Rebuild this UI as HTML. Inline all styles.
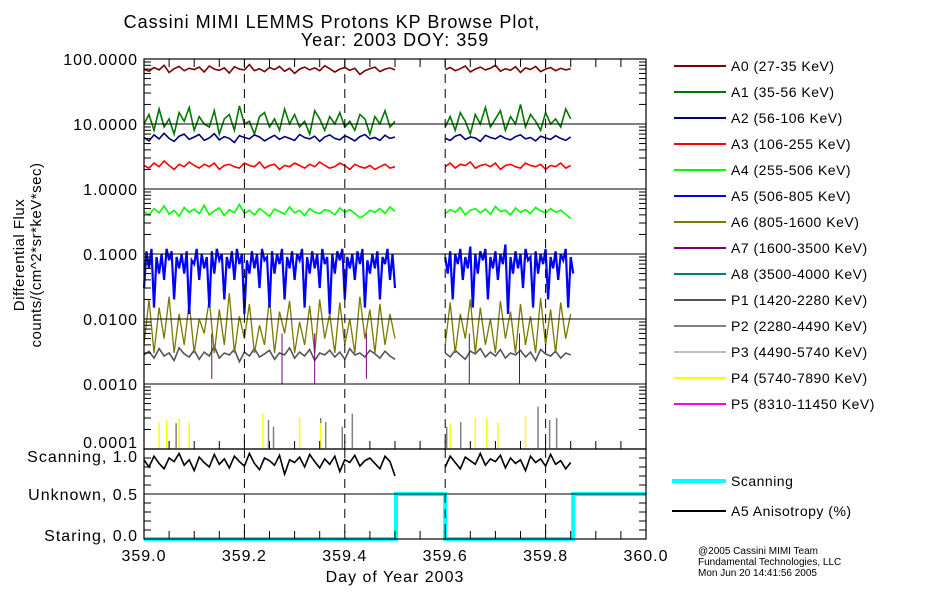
<!DOCTYPE html>
<html><head><meta charset="utf-8"><style>
body{margin:0;background:#fff;}
svg{display:block;font-family:"Liberation Sans",sans-serif;}
</style></head><body>
<svg id="chart" width="950" height="600" viewBox="0 0 950 600" xmlns="http://www.w3.org/2000/svg">
<rect width="950" height="600" fill="#fff"/>
<text x="332" y="28" text-anchor="middle" font-size="18" letter-spacing="1">Cassini MIMI LEMMS Protons KP Browse Plot,</text>
<text x="395" y="46" text-anchor="middle" font-size="18" letter-spacing="1">Year: 2003 DOY: 359</text>
<g id="plot"></g>
<g id="axes"></g>
<text transform="translate(24,255) rotate(-90)" text-anchor="middle" font-size="15" letter-spacing="0.5">Differential Flux</text>
<text transform="translate(41,255) rotate(-90)" text-anchor="middle" font-size="15" letter-spacing="0.5">counts/(cm^2*sr*keV*sec)</text>
<text x="395" y="582" text-anchor="middle" font-size="16" letter-spacing="1">Day of Year 2003</text>
<g font-size="10">
<text x="698" y="554">@2005 Cassini MIMI Team</text>
<text x="698" y="565">Fundamental Technologies, LLC</text>
<text x="698" y="576">Mon Jun 20 14:41:56 2005</text>
</g>
<g id="legend"></g>
</svg>
<script>
const seg1Start = 359.0, seg2Start = 359.6, step = 0.01, fineStep = 0.005;
const decadeTicks = [100, 10, 1, 0.1, 0.01, 0.001, 0.0001];
const decadeLabels = ["100.0000","10.0000","1.0000","0.1000","0.0100","0.0010","0.0001"];
const xTicks = [359.0, 359.2, 359.4, 359.6, 359.8, 360.0];
const xTickLabels = ["359.0","359.2","359.4","359.6","359.8","360.0"];
const lowerTicks = [1.0, 0.5, 0.0];
const lowerLabels = ["Scanning, 1.0","Unknown, 0.5","Staring, 0.0"];

const a0s1 = [70,65,74,68,80,62,71,77,66,72,69,75,63,78,70,67,73,61,76,70,68,82,66,71,64,74,69,77,65,72,60,70,75,68,73,66,79,71,63,70,74,67,72,58,66,71,75,64,70,73,68];
const a0s2 = [69,74,66,71,78,63,70,75,68,72,80,65,71,67,76,62,73,69,77,64,70,74,66,72,68,71];
const a1s1 = [10,14,8,17,9,12,7,15,11,18,8,13,10,9,16,7,12,14,8,19,10,11,7,13,15,9,12,8,17,10,14,9,11,7,16,12,8,13,10,15,9,11,8,14,12,7,13,10,16,9,11];
const a1s2 = [9,13,8,15,11,7,14,10,18,9,12,16,8,13,10,20,9,14,11,8,15,10,12,9,17,12];
const a2s1 = [6.2,5.5,6.8,5.9,7.2,6.0,5.4,6.5,7.0,5.8,6.3,6.9,5.6,6.1,7.1,5.7,6.4,6.0,5.2,6.6,6.2,5.9,6.8,6.3,5.5,6.1,6.7,5.8,6.4,6.0,5.6,6.9,6.2,5.9,6.5,5.4,6.3,6.8,6.0,5.7,6.6,6.1,5.5,6.4,6.9,5.9,6.2,5.6,6.7,6.0,6.3];
const a2s2 = [6.0,5.6,6.5,6.9,5.8,6.3,6.1,5.4,6.7,6.2,5.9,6.6,6.0,5.7,6.4,6.8,5.9,6.2,5.5,6.5,6.1,5.8,6.6,6.0,5.6,6.3];
const a3s1 = [2.3,2.1,2.5,2.2,2.7,2.3,2.0,2.4,2.2,2.6,2.3,2.1,2.4,2.2,2.5,2.0,2.3,2.4,2.2,2.1,2.5,2.3,2.2,2.6,2.1,2.3,2.4,2.0,2.3,2.2,2.5,2.3,2.1,2.4,2.2,2.6,2.3,2.1,2.2,2.5,2.3,2.0,2.4,2.2,2.1,2.3,2.0,2.2,2.4,2.1,2.2];
const a3s2 = [2.2,2.5,2.1,2.4,2.3,2.6,2.1,2.3,2.4,2.2,2.5,2.0,2.3,2.4,2.2,2.1,2.5,2.3,2.2,2.4,2.0,2.3,2.2,2.5,2.1,2.3];
const a4s1 = [0.45,0.40,0.50,0.43,0.55,0.41,0.47,0.38,0.52,0.44,0.49,0.42,0.56,0.40,0.46,0.51,0.39,0.48,0.43,0.58,0.42,0.47,0.40,0.50,0.44,0.38,0.49,0.45,0.41,0.53,0.43,0.47,0.39,0.50,0.44,0.42,0.48,0.46,0.40,0.51,0.44,0.48,0.42,0.36,0.40,0.47,0.44,0.50,0.42,0.53,0.45];
const a4s2 = [0.42,0.48,0.44,0.52,0.40,0.47,0.50,0.43,0.49,0.41,0.54,0.45,0.47,0.40,0.51,0.44,0.48,0.42,0.52,0.46,0.43,0.50,0.44,0.47,0.41,0.35];
// A5 sampled at fineStep
const a5s1 = [0.03,0.11,0.06,0.12,0.015,0.09,0.05,0.10,0.04,0.12,0.08,0.11,0.02,0.09,0.06,0.10,0.05,0.11,0.012,0.08,0.07,0.12,0.04,0.10,0.06,0.09,0.015,0.11,0.05,0.12,0.08,0.10,0.02,0.09,0.06,0.11,0.04,0.12,0.07,0.10,0.012,0.08,0.05,0.11,0.06,0.10,0.03,0.12,0.08,0.09,0.015,0.11,0.05,0.10,0.07,0.12,0.02,0.09,0.06,0.11,0.04,0.10,0.08,0.12,0.015,0.09,0.05,0.11,0.06,0.10,0.03,0.12,0.07,0.09,0.012,0.10,0.05,0.11,0.08,0.12,0.02,0.09,0.06,0.10,0.04,0.11,0.07,0.12,0.015,0.08,0.05,0.10,0.06,0.11,0.02,0.09,0.07,0.12,0.04,0.10,0.03];
const a5s2 = [0.09,0.05,0.11,0.02,0.10,0.07,0.12,0.04,0.09,0.06,0.13,0.015,0.10,0.05,0.11,0.08,0.12,0.02,0.09,0.06,0.11,0.04,0.10,0.07,0.14,0.012,0.09,0.05,0.11,0.06,0.10,0.03,0.12,0.08,0.09,0.015,0.11,0.05,0.10,0.07,0.12,0.02,0.09,0.06,0.11,0.04,0.10,0.08,0.12,0.015,0.09,0.05];
const a6s1 = [0.004,0.020,0.003,0.015,0.005,0.022,0.003,0.012,0.004,0.018,0.003,0.010,0.006,0.020,0.003,0.014,0.004,0.025,0.003,0.011,0.005,0.017,0.003,0.008,0.004,0.021,0.003,0.013,0.006,0.019,0.003,0.009,0.004,0.016,0.003,0.020,0.005,0.012,0.003,0.018,0.004,0.010,0.003,0.022,0.005,0.014,0.003,0.017,0.004,0.012,0.005];
const a6s2 = [0.004,0.018,0.003,0.012,0.005,0.020,0.003,0.015,0.004,0.010,0.003,0.019,0.005,0.013,0.003,0.017,0.004,0.011,0.003,0.021,0.004,0.014,0.003,0.018,0.005,0.012];
const p1s1 = [0.0028,0.0032,0.0025,0.0035,0.0027,0.0030,0.0023,0.0036,0.0029,0.0026,0.0033,0.0024,0.0031,0.0027,0.0038,0.0025,0.0030,0.0028,0.0034,0.0022,0.0031,0.0027,0.0035,0.0026,0.0029,0.0033,0.0024,0.0030,0.0028,0.0036,0.0025,0.0031,0.0027,0.0034,0.0023,0.0030,0.0028,0.0033,0.0026,0.0031,0.0024,0.0035,0.0028,0.0030,0.0026,0.0033,0.0029,0.0025,0.0032,0.0027,0.0024];
const p1s2 = [0.0030,0.0026,0.0033,0.0028,0.0024,0.0032,0.0029,0.0035,0.0026,0.0031,0.0027,0.0034,0.0025,0.0030,0.0028,0.0033,0.0026,0.0031,0.0023,0.0034,0.0029,0.0027,0.0032,0.0025,0.0030,0.0028];
const anis1 = [0.88,0.80,0.92,0.84,0.78,0.90,0.86,0.95,0.82,0.88,0.76,0.91,0.85,0.80,0.94,0.83,0.89,0.79,0.92,0.86,0.81,0.95,0.84,0.77,0.90,0.87,0.82,0.93,0.72,0.88,0.85,0.91,0.80,0.94,0.86,0.79,0.89,0.83,0.92,0.75,0.88,0.85,0.93,0.81,0.87,0.90,0.84,0.78,0.92,0.86,0.70];
const anis2 = [0.80,0.92,0.85,0.78,0.91,0.87,0.83,0.95,0.82,0.89,0.86,0.93,0.79,0.90,0.84,0.88,0.76,0.92,0.85,0.89,0.81,0.94,0.83,0.87,0.78,0.85];
const scanTimes = [359.0, 359.502, 359.6, 359.855, 360.0];
const scanStates = [0, 0.5, 0, 0.5];
const a7Times = [359.135, 359.34, 359.275, 359.443, 359.648, 359.748];
const a7Values = [0.0012, 0.0010, 0.0010, 0.0012, 0.0010, 0.0010];
const p2Times = [359.064, 359.248, 359.258, 359.352, 359.362, 359.395, 359.415, 359.603, 359.631, 359.785, 359.808, 359.822];
const p2Values = [0.00025, 0.00028, 0.00022, 0.00030, 0.00026, 0.00022, 0.00035, 0.00022, 0.00026, 0.00045, 0.00028, 0.00030];
const p4Times = [359.030, 359.045, 359.070, 359.090, 359.237, 359.310, 359.352, 359.610, 359.660, 359.683, 359.705, 359.760];
const p4Values = [0.00025, 0.00028, 0.00030, 0.00025, 0.00035, 0.00030, 0.00025, 0.00024, 0.00030, 0.00030, 0.00025, 0.00032];

const legendNames = ["A0 (27-35 KeV)","A1 (35-56 KeV)","A2 (56-106 KeV)","A3 (106-255 KeV)","A4 (255-506 KeV)","A5 (506-805 KeV)","A6 (805-1600 KeV)","A7 (1600-3500 KeV)","A8 (3500-4000 KeV)","P1 (1420-2280 KeV)","P2 (2280-4490 KeV)","P3 (4490-5740 KeV)","P4 (5740-7890 KeV)","P5 (8310-11450 KeV)"];
const legendColors = ["#7a0000","#007800","#000078","#ff0000","#00ff00","#0000ff","#7a7a00","#7a007a","#007a7a","#555555","#808080","#bdbdbd","#ffff00","#ff00ff"];

const NS = "http://www.w3.org/2000/svg";
const X0 = 144, X1 = 646, TOP = 59, DEC = 65, BOT = 449, LB = 539;
function xs(t){ return X0 + (t - 359.0) * (X1 - X0); }
function ys(v){ return TOP + (2 - Math.log10(v)) * DEC; }
function yl(v){ return LB - v * (LB - BOT); }
function mk(tag, attrs, parent){ const e = document.createElementNS(NS, tag); for (const k in attrs) e.setAttribute(k, attrs[k]); parent.appendChild(e); return e; }
const plot = document.getElementById("plot");
const axes = document.getElementById("axes");

function drawSeries(arr, start, yfn, color, name, w, st){
  const s = st || step;
  let d = "";
  arr.forEach((v, i) => { d += (i ? "L" : "M") + xs(start + i * s).toFixed(1) + " " + yfn(v).toFixed(1); });
  const p = mk("path", {d: d, fill: "none", stroke: color, "stroke-width": w || 1.3}, plot);
  
  
}
function drawSpikes(times, vals, color, name){
  times.forEach((t, i) => {
    const l = mk("line", {x1: xs(t), x2: xs(t), y1: BOT - 1, y2: ys(vals[i]), stroke: color, "stroke-width": 1.5}, plot);
    
    
  });
}
function drawDrop(times, vals, color, name){
  times.forEach((t, i) => {
    const l = mk("line", {x1: xs(t), x2: xs(t), y1: ys(0.006), y2: ys(vals[i]), stroke: color, "stroke-width": 1}, plot);
    
    
  });
}

decadeTicks.slice(1, 6).forEach(v => {
  const l = mk("line", {x1: X0, x2: X1, y1: ys(v), y2: ys(v), stroke: "#000", "stroke-width": 1}, axes);
  
  
});
const mid = mk("line", {x1: X0, x2: X1, y1: yl(0.5), y2: yl(0.5), stroke: "#000", "stroke-width": 1}, axes);


xTicks.slice(1, 5).forEach(t => {
  const l = mk("line", {x1: xs(t), x2: xs(t), y1: TOP, y2: LB, stroke: "#000", "stroke-width": 1, "stroke-dasharray": "9,6"}, axes);
  
  
});

drawSpikes(p2Times, p2Values, "#808080", "p2-spike");
drawSpikes(p4Times, p4Values, "#ffff00", "p4-spike");
drawSeries(a0s1, seg1Start, ys, "#7a0000", "a0-line-seg1", 1.6);
drawSeries(a0s2, seg2Start, ys, "#7a0000", "a0-line-seg2", 1.6);
drawSeries(a1s1, seg1Start, ys, "#007800", "a1-line-seg1", 1.6);
drawSeries(a1s2, seg2Start, ys, "#007800", "a1-line-seg2", 1.6);
drawSeries(a2s1, seg1Start, ys, "#000078", "a2-line-seg1", 1.6);
drawSeries(a2s2, seg2Start, ys, "#000078", "a2-line-seg2", 1.6);
drawSeries(a3s1, seg1Start, ys, "#ff0000", "a3-line-seg1", 1.6);
drawSeries(a3s2, seg2Start, ys, "#ff0000", "a3-line-seg2", 1.6);
drawSeries(a4s1, seg1Start, ys, "#00ff00", "a4-line-seg1", 1.6);
drawSeries(a4s2, seg2Start, ys, "#00ff00", "a4-line-seg2", 1.6);
drawSeries(p1s1, seg1Start, ys, "#555555", "p1-line-seg1", 1.6);
drawSeries(p1s2, seg2Start, ys, "#555555", "p1-line-seg2", 1.6);
drawSeries(a6s1, seg1Start, ys, "#7a7a00", "a6-line-seg1");
drawSeries(a6s2, seg2Start, ys, "#7a7a00", "a6-line-seg2");
drawSeries(a5s1, seg1Start, ys, "#0000ff", "a5-line-seg1", 2.2, fineStep);
drawSeries(a5s2, seg2Start, ys, "#0000ff", "a5-line-seg2", 2.2, fineStep);
drawDrop(a7Times, a7Values, "#7a007a", "a7-spike");
drawSeries(anis1, seg1Start, yl, "#000", "anisotropy-line-seg1", 1.6);
drawSeries(anis2, seg2Start, yl, "#000", "anisotropy-line-seg2", 1.6);
{
  let d = "";
  scanStates.forEach((s, i) => { d += (i ? "L" : "M") + xs(scanTimes[i]).toFixed(1) + " " + yl(s).toFixed(1) + "L" + xs(scanTimes[i+1]).toFixed(1) + " " + yl(s).toFixed(1); });
  const p = mk("path", {d: d, fill: "none", stroke: "#00ffff", "stroke-width": 4}, plot);
  
  
}

[[TOP, BOT, "upper-panel-frame"], [BOT, LB, "lower-panel-frame"]].forEach(f => {
  const r = mk("rect", {x: X0, y: f[0], width: X1 - X0, height: f[1] - f[0], fill: "none", stroke: "#000", "stroke-width": 1.2}, axes);
  
  
});
decadeTicks.slice(1).forEach(v => {
  for (let m = 2; m <= 9; m++) {
    const y = ys(v * m);
    [[X0, X0 + 7], [X1 - 7, X1]].forEach(p => {
      const l = mk("line", {x1: p[0], x2: p[1], y1: y, y2: y, stroke: "#000"}, axes);
      
      
    });
  }
});
for (let k = 1; k < 10; k++) {
  if (k === 5) continue;
  const y = yl(k / 10);
  [[X0, X0 + 7], [X1 - 7, X1]].forEach(p => {
    const l = mk("line", {x1: p[0], x2: p[1], y1: y, y2: y, stroke: "#000"}, axes);
    
    
  });
}
for (let k = 1; k < 20; k++) {
  const x = xs(359 + k * 0.05);
  [[TOP, TOP + 8], [BOT - 8, BOT], [LB - 8, LB]].forEach(p => {
    const l = mk("line", {x1: x, x2: x, y1: p[0], y2: p[1], stroke: "#000"}, axes);
    
    
  });
}
decadeTicks.forEach((v, i) => {
  const t = mk("text", {x: 138, y: (i === 6 ? ys(v) - 1 : ys(v) + 6), "text-anchor": "end", "font-size": 16, "letter-spacing": 1}, axes);
  t.textContent = decadeLabels[i];
  
  
});
lowerTicks.forEach((v, i) => {
  const t = mk("text", {x: 138, y: (i === 0 ? 462 : i === 2 ? 541 : yl(v) + 6), "text-anchor": "end", "font-size": 16, "letter-spacing": 1}, axes);
  t.textContent = lowerLabels[i];
  
  
});
xTicks.forEach((v, i) => {
  const t = mk("text", {x: xs(v), y: 561, "text-anchor": "middle", "font-size": 16, "letter-spacing": 1}, axes);
  t.textContent = xTickLabels[i];
  
  
});
const lg = document.getElementById("legend");
legendNames.forEach((n, i) => {
  const y = 66 + i * 26;
  const l = mk("line", {x1: 674, x2: 726, y1: y, y2: y, stroke: legendColors[i], "stroke-width": 2}, lg);
  
  
  const t = mk("text", {x: 731, y: y + 5, "font-size": 14, "letter-spacing": 0.5}, lg);
  t.textContent = n;
  
  
});
[["Scanning", "#00ffff", 4, 481], ["A5 Anisotropy (%)", "#000", 2, 511]].forEach(e => {
  const l = mk("line", {x1: 672, x2: 726, y1: e[3], y2: e[3], stroke: e[1], "stroke-width": e[2]}, lg);
  
  
  const t = mk("text", {x: 731, y: e[3] + 5, "font-size": 14, "letter-spacing": 0.5}, lg);
  t.textContent = e[0];
  
  
});
</script>
</body></html>
